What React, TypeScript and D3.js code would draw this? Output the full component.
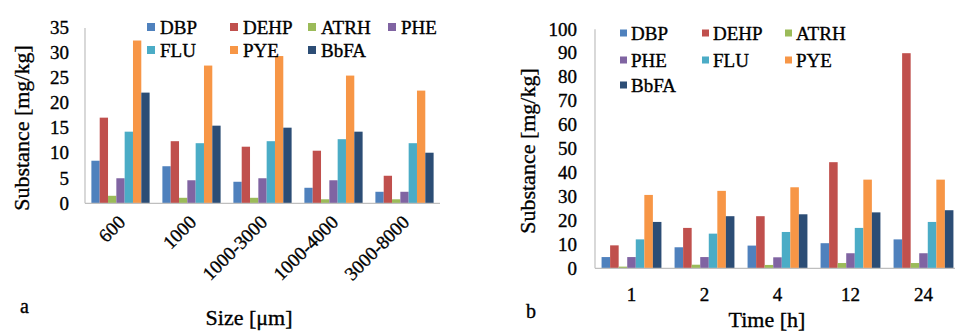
import React from "react";
import * as d3 from "d3";

const series = ["DBP", "DEHP", "ATRH", "PHE", "FLU", "PYE", "BbFA"];
const colors = ["#4F81BD", "#C0504D", "#9BBB59", "#8064A2", "#4BACC6", "#F79646", "#2C4D75"];

const sizeCategories = ["600", "1000", "1000-3000", "1000-4000", "3000-8000"];
const sizeValues = [
  [8.5, 17.1, 1.5, 5.0, 14.3, 32.5, 22.1],
  [7.4, 12.4, 1.1, 4.6, 12.0, 27.5, 15.5],
  [4.3, 11.3, 1.1, 5.0, 12.4, 29.4, 15.1],
  [3.1, 10.5, 0.8, 4.6, 12.8, 25.5, 14.3],
  [2.3, 5.5, 0.8, 2.3, 12.0, 22.5, 10.1],
];
const sizeTicks = [0, 5, 10, 15, 20, 25, 30, 35];

const timeCategories = ["1", "2", "4", "12", "24"];
const timeValues = [
  [4.7, 9.6, 0.7, 4.7, 12.1, 30.7, 19.4],
  [8.8, 16.9, 1.5, 4.7, 14.5, 32.4, 21.8],
  [9.5, 21.8, 1.4, 4.6, 15.2, 33.9, 22.6],
  [10.5, 44.4, 2.2, 6.3, 16.9, 37.1, 23.4],
  [12.1, 90.0, 2.2, 6.3, 19.4, 37.1, 24.3],
];
const timeTicks = [0, 10, 20, 30, 40, 50, 60, 70, 80, 90, 100];

const AXIS = "#BFBFBF";
const TXT = { fill: "#000", stroke: "#000", strokeWidth: 0.35 };

type PanelProps = {
  cats: string[];
  values: number[][];
  ticks: number[];
  x0: number;
  x1: number;
  y0: number;
  y1: number;
  yMax: number;
  tickX: number;
  rotate: boolean;
  xTitle: string;
  xTitleX: number;
  xTitleY: number;
  letter: string;
  letterX: number;
  letterY: number;
  yTitleX: number;
  yTitleY: number;
  legendCols: number[];
  legendRows: number[];
  legendPerRow: number;
  legendSq: number;
  legendGap: number;
};

function Panel(p: PanelProps) {
  const x = d3.scaleBand<string>().domain(p.cats).range([p.x0, p.x1]).paddingInner(0.18).paddingOuter(0.09);
  const xs = d3.scaleBand<string>().domain(series).range([0, x.bandwidth()]);
  const y = d3.scaleLinear().domain([0, p.yMax]).range([p.y0, p.y1]);
  return (
    <g>
      <g>
        {p.values.map((row, gi) =>
          row.map((v, si) => (
            <rect
              key={`${gi}-${si}`}
              x={(x(p.cats[gi]) ?? 0) + (xs(series[si]) ?? 0)}
              y={y(v)}
              width={xs.bandwidth()}
              height={p.y0 - y(v)}
              fill={colors[si]}
            />
          ))
        )}
      </g>
      <line x1={p.x0} x2={p.x0} y1={y(p.yMax)} y2={p.y0} stroke={AXIS} strokeWidth={1.2} />
      <line x1={p.x0} x2={p.x1} y1={p.y0} y2={p.y0} stroke={AXIS} strokeWidth={1.2} />
      {p.ticks.map((t) => (
        <text key={t} x={p.tickX} y={y(t)} dy="0.33em" textAnchor="end" fontSize={19} {...TXT}>
          {t}
        </text>
      ))}
      {p.cats.map((c) => {
        const cx = (x(c) ?? 0) + x.bandwidth() / 2;
        if (p.rotate) {
          return (
            <text
              key={c}
              transform={`translate(${cx + 6},${p.y0 + 20}) rotate(-45)`}
              textAnchor="end"
              fontSize={19}
              {...TXT}
            >
              {c}
            </text>
          );
        }
        return (
          <text key={c} x={cx} y={p.y0 + 33} textAnchor="middle" fontSize={19} {...TXT}>
            {c}
          </text>
        );
      })}
      <text x={p.xTitleX} y={p.xTitleY} textAnchor="middle" fontSize={22} {...TXT}>
        {p.xTitle}
      </text>
      <text x={p.letterX} y={p.letterY} fontSize={20} {...TXT}>
        {p.letter}
      </text>
      <text
        transform={`translate(${p.yTitleX},${p.yTitleY}) rotate(-90)`}
        textAnchor="middle"
        dy="0.35em"
        fontSize={22}
        {...TXT}
      >
        Substance [mg/kg]
      </text>
      {series.map((s, i) => {
        const col = i % p.legendPerRow;
        const row = Math.floor(i / p.legendPerRow);
        const lx = p.legendCols[col];
        const ly = p.legendRows[row];
        return (
          <g key={s}>
            <rect x={lx} y={ly - p.legendSq / 2} width={p.legendSq} height={p.legendSq} fill={colors[i]} />
            <text x={lx + p.legendSq + p.legendGap} y={ly} dy="0.35em" fontSize={19} {...TXT}>
              {s}
            </text>
          </g>
        );
      })}
    </g>
  );
}

export default function App() {
  return (
    <svg
      width={955}
      height={334}
      style={{
        position: "absolute",
        left: 0,
        top: 0,
        background: "#fff",
        fontFamily: '"Liberation Serif", "Times New Roman", Tinos, "DejaVu Serif", serif',
      }}
      xmlns="http://www.w3.org/2000/svg"
    >
      <rect width={955} height={334} fill="#fff" />
      <Panel
        cats={sizeCategories}
        values={sizeValues}
        ticks={sizeTicks}
        x0={85}
        x1={440}
        y0={203.3}
        y1={28}
        yMax={35}
        tickX={69}
        rotate={true}
        xTitle="Size [μm]"
        xTitleX={249}
        xTitleY={325}
        letter="a"
        letterX={20}
        letterY={313}
        yTitleX={21}
        yTitleY={128}
        legendCols={[147, 230, 308, 388]}
        legendRows={[27, 50]}
        legendPerRow={4}
        legendSq={8}
        legendGap={5}
      />
      <Panel
        cats={timeCategories}
        values={timeValues}
        ticks={timeTicks}
        x0={595}
        x1={960}
        y0={268.3}
        y1={29.3}
        yMax={100}
        tickX={577}
        rotate={false}
        xTitle="Time [h]"
        xTitleX={767}
        xTitleY={327}
        letter="b"
        letterX={526}
        letterY={318}
        yTitleX={527}
        yTitleY={151}
        legendCols={[620, 702, 785]}
        legendRows={[33, 60, 85]}
        legendPerRow={3}
        legendSq={7}
        legendGap={4}
      />
    </svg>
  );
}
